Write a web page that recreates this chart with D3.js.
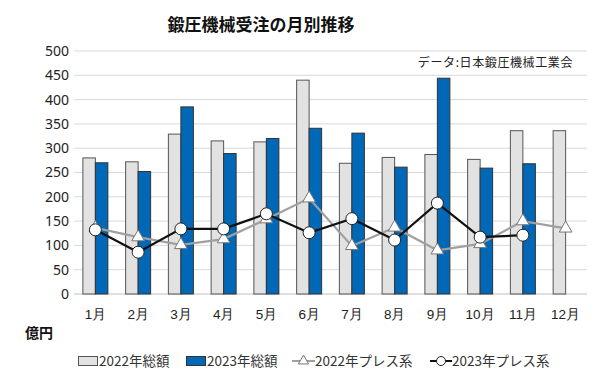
<!DOCTYPE html>
<html><head><meta charset="utf-8">
<script src="https://cdn.jsdelivr.net/npm/d3@7"></script>
<style>body{margin:0;background:#fff}svg{display:block;font-family:"Noto Sans CJK JP","Noto Sans",sans-serif}</style>
</head><body><svg id="c" width="600" height="392"></svg>
<script>
const months = ["1月","2月","3月","4月","5月","6月","7月","8月","9月","10月","11月","12月"];
const total2022 = [280,272,329,315,313,440,269,281,287,277,336,336];
const total2023 = [270,252,385,289,320,341,331,261,444,259,268,null];
const press2022 = [136,117,101,113,154,197,99,137,90,103,150,135];
const press2023 = [132,86,134,134,165,126,155,111,187,117,121,null];
const yTicks = [0,50,100,150,200,250,300,350,400,450,500];

const svg = d3.select("#c");
const x = d3.scaleBand().domain(months).range([74,587]).padding(0);
const y = d3.scaleLinear().domain([0,500]).range([294,51]);
const bw = 12.5;
const cx = m => x(m) + x.bandwidth()/2;

// gridlines
svg.append("g").selectAll("line").data(yTicks).join("line")
  .attr("x1",74).attr("x2",587).attr("y1",d=>y(d)).attr("y2",d=>y(d))
  .attr("stroke",d=>d===0?"#bfbfbf":"#d9d9d9").attr("stroke-width",1);

// y axis labels
const ya = svg.append("g").attr("transform","translate(69,0)")
  .call(d3.axisLeft(y).tickValues(yTicks).tickSize(0).tickPadding(0));
ya.select(".domain").remove();
ya.selectAll("text").attr("font-size",14).attr("fill","#222").attr("font-family","'Noto Sans',sans-serif");

// x axis labels
const xa = svg.append("g").attr("transform","translate(0,309)")
  .call(d3.axisBottom(x).tickSize(0).tickPadding(0));
xa.select(".domain").remove();
xa.selectAll("text").attr("font-size",13.5).attr("fill","#222").attr("dy","0.71em");

// bars
svg.append("g").selectAll("rect").data(months.map((m,i)=>({m,v:total2022[i]})).filter(d=>d.v!=null)).join("rect")
  .attr("x",d=>cx(d.m)-bw).attr("y",d=>y(d.v)).attr("width",bw).attr("height",d=>y(0)-y(d.v))
  .attr("fill","#e2e2e2").attr("stroke","#555").attr("stroke-width",1);
svg.append("g").selectAll("rect").data(months.map((m,i)=>({m,v:total2023[i]})).filter(d=>d.v!=null)).join("rect")
  .attr("x",d=>cx(d.m)).attr("y",d=>y(d.v)).attr("width",bw).attr("height",d=>y(0)-y(d.v))
  .attr("fill","#0068b7").attr("stroke","#333").attr("stroke-width",1);

// lines
const line = d3.line().defined(d=>d.v!=null).x(d=>cx(d.m)).y(d=>y(d.v));
const p22 = months.map((m,i)=>({m,v:press2022[i]}));
const p23 = months.map((m,i)=>({m,v:press2023[i]}));
svg.append("path").datum(p22).attr("d",line).attr("fill","none").attr("stroke","#a0a0a0").attr("stroke-width",2.2);
const tri = d3.symbol().type(d3.symbolTriangle).size(70);
svg.append("g").selectAll("path").data(p22.filter(d=>d.v!=null)).join("path")
  .attr("d",tri).attr("transform",d=>`translate(${cx(d.m)},${y(d.v)})`)
  .attr("fill","#fff").attr("stroke","#777").attr("stroke-width",1);
svg.append("path").datum(p23).attr("d",line).attr("fill","none").attr("stroke","#111").attr("stroke-width",2.2);
svg.append("g").selectAll("circle").data(p23.filter(d=>d.v!=null)).join("circle")
  .attr("cx",d=>cx(d.m)).attr("cy",d=>y(d.v)).attr("r",6)
  .attr("fill","#fff").attr("stroke","#222").attr("stroke-width",1);

// title
svg.append("text").attr("x",261).attr("y",31).attr("text-anchor","middle")
  .attr("font-size",17).attr("font-weight","bold").attr("fill","#111").text("鍛圧機械受注の月別推移");
svg.append("text").attr("x",573).attr("y",67).attr("text-anchor","end")
  .attr("font-size",12).attr("letter-spacing",0.6).attr("fill","#222").text("データ:日本鍛圧機械工業会");
svg.append("text").attr("x",25).attr("y",338)
  .attr("font-size",14).attr("font-weight","bold").attr("fill","#111").text("億円");

// legend
const lg = svg.append("g").attr("font-size",13.5).attr("fill","#333");
const ly = 361;
lg.append("rect").attr("x",78.5).attr("y",ly-4.5).attr("width",19).attr("height",9).attr("fill","#e2e2e2").attr("stroke","#555");
lg.append("text").attr("x",99).attr("y",ly).attr("dy","0.35em").text("2022年総額");
lg.append("rect").attr("x",186.5).attr("y",ly-4.5).attr("width",19).attr("height",9).attr("fill","#0068b7").attr("stroke","#333");
lg.append("text").attr("x",207).attr("y",ly).attr("dy","0.35em").text("2023年総額");
lg.append("line").attr("x1",292).attr("x2",315).attr("y1",ly).attr("y2",ly).attr("stroke","#a0a0a0").attr("stroke-width",2);
lg.append("path").attr("d",d3.symbol().type(d3.symbolTriangle).size(45)).attr("transform",`translate(303.5,${ly})`).attr("fill","#fff").attr("stroke","#777");
lg.append("text").attr("x",315).attr("y",ly).attr("dy","0.35em").text("2022年プレス系");
lg.append("line").attr("x1",430).attr("x2",452).attr("y1",ly).attr("y2",ly).attr("stroke","#111").attr("stroke-width",2);
lg.append("circle").attr("cx",441).attr("cy",ly).attr("r",4.5).attr("fill","#fff").attr("stroke","#222");
lg.append("text").attr("x",452).attr("y",ly).attr("dy","0.35em").text("2023年プレス系");
</script></body></html>
